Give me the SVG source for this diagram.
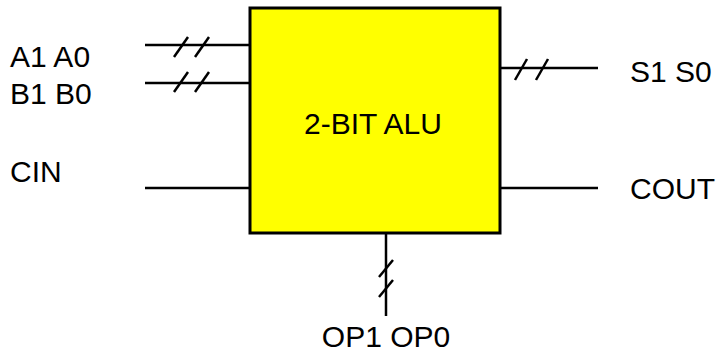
<svg xmlns="http://www.w3.org/2000/svg" width="722" height="362" viewBox="0 0 722 362">
<style>
.w{stroke:#000;stroke-width:2.5;fill:none}
.s{stroke:#000;stroke-width:2.5;fill:none}
.t{font-family:"Liberation Sans",Arial,sans-serif;font-size:30px;fill:#000}
</style>
<rect width="722" height="362" fill="#fff"/>
<g id="connectors">
<line class="w" x1="145" y1="45" x2="250" y2="45"/>
<line class="s" x1="188" y1="37" x2="174" y2="57"/>
<line class="s" x1="209" y1="37" x2="195" y2="57"/>
<line class="w" x1="145" y1="83" x2="250" y2="83"/>
<line class="s" x1="188" y1="72" x2="174" y2="92"/>
<line class="s" x1="209" y1="72" x2="195" y2="92"/>
<line class="w" x1="145" y1="188" x2="250" y2="188"/>
<line class="w" x1="500" y1="68" x2="598" y2="68"/>
<line class="s" x1="527" y1="59" x2="515" y2="80"/>
<line class="s" x1="548" y1="59" x2="536" y2="80"/>
<line class="w" x1="500" y1="188" x2="598" y2="188"/>
<line class="w" x1="386" y1="233" x2="386" y2="316"/>
<line class="s" x1="393" y1="260" x2="379" y2="277"/>
<line class="s" x1="393" y1="280" x2="379" y2="297"/>
</g>
<g id="alu">
<rect x="250" y="8" width="250" height="225" fill="#ffff00" stroke="#000" stroke-width="3"/>
<text class="t" x="373" y="134" text-anchor="middle">2-BIT ALU</text>
</g>
<g id="labels">
<text class="t" x="10" y="67">A1 A0</text>
<text class="t" x="10" y="104">B1 B0</text>
<text class="t" x="10" y="182">CIN</text>
<text class="t" x="630" y="82">S1 S0</text>
<text class="t" x="630" y="199">COUT</text>
<text class="t" x="386" y="347" text-anchor="middle">OP1 OP0</text>
</g>
</svg>
